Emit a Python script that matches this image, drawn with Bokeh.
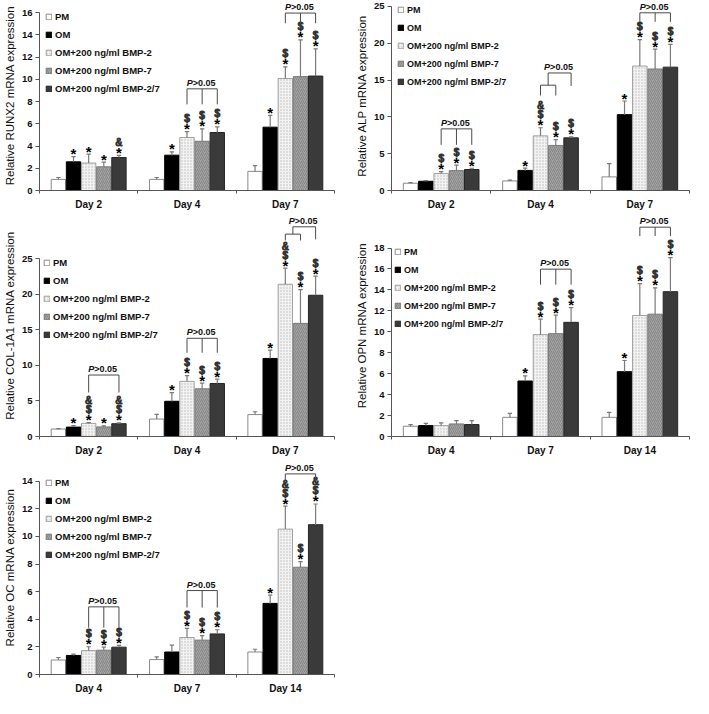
from bokeh.plotting import figure
from bokeh.models import Range1d, FixedTicker, Legend, LegendItem, ColumnDataSource
from bokeh.layouts import column, row
from bokeh.embed import file_html
from bokeh.resources import INLINE
from bokeh.core.properties import value

series = ["PM", "OM", "OM+200 ng/ml BMP-2", "OM+200 ng/ml BMP-7", "OM+200 ng/ml BMP-2/7"]

# ---------------- RUNX2 ----------------
runx2_days = ["Day 2", "Day 4", "Day 7"]
runx2_yticks = [0, 2, 4, 6, 8, 10, 12, 14, 16]
runx2_mean = [
    [1.00, 1.00, 1.72],
    [2.58, 3.18, 5.70],
    [2.47, 4.77, 10.08],
    [2.13, 4.43, 10.25],
    [2.97, 5.22, 10.30],
]
runx2_sd = [
    [0.17, 0.17, 0.52],
    [0.46, 0.30, 1.06],
    [0.80, 0.53, 1.05],
    [0.42, 1.12, 3.30],
    [0.20, 0.50, 2.45],
]
runx2_marks = [
    ["", "", ""],
    ["*", "*", "*"],
    ["*", "$*", "$*"],
    ["*", "$*", "$*"],
    ["&*", "$*", "$*"],
]
runx2_brackets = [
    {"day": 1, "legs": [2, 3, 4], "top": 9.15, "bottom": 7.75},
    {"day": 2, "legs": [2, 3, 4], "top": 15.97, "bottom": 15.05},
]

# ---------------- ALP ----------------
alp_days = ["Day 2", "Day 4", "Day 7"]
alp_yticks = [0, 5, 10, 15, 20, 25]
alp_mean = [
    [0.99, 1.30, 1.85],
    [1.25, 2.73, 10.30],
    [2.30, 7.42, 16.90],
    [2.70, 6.12, 16.50],
    [2.85, 7.15, 16.75],
]
alp_sd = [
    [0.08, 0.12, 1.80],
    [0.08, 0.30, 1.85],
    [0.25, 1.10, 3.60],
    [0.75, 0.78, 2.70],
    [0.17, 0.13, 3.10],
]
alp_marks = [
    ["", "", ""],
    ["", "*", "*"],
    ["$*", "&$*", "$*"],
    ["$*", "$*", "$*"],
    ["$*", "$*", "$*"],
]
alp_brackets = [
    {"day": 0, "legs": [2, 3, 4], "top": 8.37, "bottom": 6.2},
    {"day": 1, "legs": [2, 3], "top": 14.3, "bottom": 12.9,
     "upper_to": 4, "upper_top": 15.96, "upper_bottom": 14.2},
    {"day": 2, "legs": [2, 3, 4], "top": 24.13, "bottom": 22.9},
]

# ---------------- COL-1A1 ----------------
col_days = ["Day 2", "Day 4", "Day 7"]
col_yticks = [0, 5, 10, 15, 20, 25]
col_mean = [
    [1.05, 2.45, 3.08],
    [1.32, 4.95, 10.97],
    [1.85, 7.75, 21.40],
    [1.35, 6.70, 15.90],
    [1.80, 7.45, 19.85],
]
col_sd = [
    [0.06, 0.65, 0.40],
    [0.20, 1.23, 1.17],
    [0.10, 0.80, 2.25],
    [0.15, 0.80, 4.75],
    [0.12, 0.60, 2.68],
]
col_marks = [
    ["", "", ""],
    ["*", "*", "*"],
    ["&$*", "$*", "&$*"],
    ["*", "$*", "$*"],
    ["&$*", "$*", "$*"],
]
col_brackets = [
    {"day": 0, "legs": [2, 4], "top": 8.64, "bottom": 6.18},
    {"day": 1, "legs": [2, 3, 4], "top": 13.8, "bottom": 11.77},
    {"day": 2, "legs": [2, 3], "top": 28.44, "bottom": 27.55,
     "upper_to": 4, "upper_top": 29.47, "upper_bottom": 27.7},
]

# ---------------- OPN ----------------
opn_days = ["Day 4", "Day 7", "Day 14"]
opn_yticks = [0, 2, 4, 6, 8, 10, 12, 14, 16, 18]
opn_mean = [
    [0.98, 1.83, 1.83],
    [1.04, 5.30, 6.19],
    [1.04, 9.73, 11.56],
    [1.20, 9.82, 11.68],
    [1.14, 10.90, 13.83],
]
opn_sd = [
    [0.16, 0.38, 0.47],
    [0.22, 0.48, 1.07],
    [0.26, 1.47, 3.04],
    [0.32, 1.78, 2.52],
    [0.38, 1.40, 3.25],
]
opn_marks = [
    ["", "", ""],
    ["", "*", "*"],
    ["", "$*", "$*"],
    ["", "$*", "$*"],
    ["", "$*", "$*"],
]
opn_brackets = [
    {"day": 1, "legs": [2, 3, 4], "top": 15.98, "bottom": 14.5},
    {"day": 2, "legs": [2, 3, 4], "top": 19.99, "bottom": 19.14},
]

# ---------------- OC ----------------
oc_days = ["Day 4", "Day 7", "Day 14"]
oc_yticks = [0, 2, 4, 6, 8, 10, 12, 14]
oc_mean = [
    [1.05, 1.08, 1.63],
    [1.38, 1.63, 5.15],
    [1.73, 2.68, 10.53],
    [1.76, 2.49, 7.77],
    [1.98, 2.94, 10.85],
]
oc_sd = [
    [0.18, 0.20, 0.20],
    [0.10, 0.50, 0.60],
    [0.28, 0.66, 1.66],
    [0.22, 0.32, 0.40],
    [0.13, 0.30, 1.50],
]
oc_marks = [
    ["", "", ""],
    ["", "", "*"],
    ["$*", "$*", "&$*"],
    ["$*", "$*", "$*"],
    ["$*", "$*", "&$*"],
]
oc_brackets = [
    {"day": 0, "legs": [2, 3, 4], "top": 4.9, "bottom": 3.39},
    {"day": 1, "legs": [2, 3, 4], "top": 6.08, "bottom": 4.85},
    {"day": 2, "legs": [2, 4], "top": 14.53, "bottom": 14.0},
]

# ---------------- styling ----------------
STEP = 0.154
BAR_W = 0.146
CAP = 0.022
FILLS = ["#ffffff", "#000000", "#f2f2f2", "#a4a4a4", "#3a3a3a"]
LINES = ["#8a8a8a", "#000000", "#a0a0a0", "#7c7c7c", "#262626"]
HATCH = [None, None, "dot", "right_diagonal_line", None]
HATCH_COL = ["#ffffff", "#000000", "#bcbcbc", "#7e7e7e", "#3a3a3a"]
FONT = "Liberation Sans"
AXIS_COL = "#555555"
ERR_COL = "#7a7a7a"
MARK_OFF = [-3, -13, -22]


def bx(g, i):
    return g + 0.5 + (i - 2) * STEP


def make_panel(days, yticks, mean, sd, marks, brackets, ylabel, ymax,
               width, height, b_left, b_right, b_bottom, leg_x, leg_font):
    p = figure(width=width, height=height, x_range=Range1d(0, 3), y_range=Range1d(0, ymax),
               output_backend="svg", toolbar_location=None,
               min_border_left=b_left, min_border_right=b_right,
               min_border_top=0, min_border_bottom=b_bottom)
    p.outline_line_color = None
    p.grid.visible = False
    p.background_fill_color = "white"

    items = []
    for i in range(5):
        xs = [bx(g, i) for g in range(3)]
        src = ColumnDataSource(dict(x=xs, top=mean[i]))
        kw = {}
        if HATCH[i]:
            kw = dict(hatch_pattern=HATCH[i], hatch_color=HATCH_COL[i],
                      hatch_scale=4 if HATCH[i] != "dot" else 3, hatch_weight=0.8)
        r = p.vbar(x="x", top="top", width=BAR_W, bottom=0, source=src,
                   fill_color=FILLS[i], line_color=LINES[i], line_width=1, **kw)
        items.append(LegendItem(label=series[i], renderers=[r]))
        y1 = [m + s for m, s in zip(mean[i], sd[i])]
        p.segment(x0=xs, y0=mean[i], x1=xs, y1=y1, line_color=ERR_COL, line_width=1.2)
        p.segment(x0=[x - CAP for x in xs], y0=y1, x1=[x + CAP for x in xs], y1=y1,
                  line_color=ERR_COL, line_width=1.2)

    # significance marks: stars and $ / &
    star = dict(x=[], y=[], t=[], o=[])
    other = dict(x=[], y=[], t=[], o=[])
    for i in range(5):
        for g in range(3):
            s = marks[i][g]
            for k, ch in enumerate(reversed(s)):
                d = star if ch == "*" else other
                d["x"].append(bx(g, i))
                d["y"].append(mean[i][g] + sd[i][g])
                d["t"].append(ch)
                d["o"].append(MARK_OFF[k])
    p.text(x="x", y="y", text="t", y_offset="o", source=ColumnDataSource(star),
           text_font_size="15px", text_align="center", text_baseline="middle",
           text_font=value(FONT), text_font_style="bold", text_color="black")
    p.text(x="x", y="y", text="t", y_offset="o", source=ColumnDataSource(other),
           text_font_size="10px", text_align="center", text_baseline="middle",
           text_font=value(FONT), text_font_style="normal", text_color="#1a1a1a",
           text_outline_color="#333333")

    # brackets
    sx0, sy0, sx1, sy1, tx, ty = [], [], [], [], [], []
    for b in brackets:
        g = b["day"]
        xl = [bx(g, i) for i in b["legs"]]
        sx0.append(xl[0]); sy0.append(b["top"]); sx1.append(xl[-1]); sy1.append(b["top"])
        for x in xl:
            sx0.append(x); sy0.append(b["top"]); sx1.append(x); sy1.append(b["bottom"])
        if "upper_to" in b:
            xm = (xl[0] + xl[-1]) / 2
            xr = bx(g, b["upper_to"])
            sx0 += [xm, xm, xr]
            sy0 += [b["top"], b["upper_top"], b["upper_top"]]
            sx1 += [xm, xr, xr]
            sy1 += [b["upper_top"], b["upper_top"], b["upper_bottom"]]
            tx.append((xm + xr) / 2); ty.append(b["upper_top"])
        else:
            tx.append((xl[0] + xl[-1]) / 2); ty.append(b["top"])
    p.segment(x0=sx0, y0=sy0, x1=sx1, y1=sy1, line_color="#4a4a4a", line_width=1)
    p.text(x=tx, y=ty, text=["P"] * len(tx), x_offset=-9.5, y_offset=-6,
           text_align="right", text_baseline="middle", text_font=value(FONT),
           text_font_style="bold italic", text_font_size="9px", text_color="#111111")
    p.text(x=tx, y=ty, text=[">0.05"] * len(tx), x_offset=-9.5, y_offset=-6,
           text_align="left", text_baseline="middle", text_font=value(FONT),
           text_font_style="bold", text_font_size="9px", text_color="#111111")

    # axes
    p.xaxis.ticker = FixedTicker(ticks=[0.5, 1.5, 2.5], minor_ticks=[0, 1, 2, 3])
    p.xaxis.major_label_overrides = {0.5: days[0], 1.5: days[1], 2.5: days[2]}
    p.xaxis.major_tick_out = 0
    p.xaxis.major_tick_in = 0
    p.xaxis.minor_tick_out = 3
    p.xaxis.minor_tick_in = 0
    p.xaxis.major_label_standoff = 5
    p.yaxis.ticker = FixedTicker(ticks=yticks)
    p.yaxis.bounds = (0, yticks[-1])
    p.yaxis.minor_tick_out = 0
    p.yaxis.minor_tick_in = 0
    p.yaxis.major_tick_out = 4
    p.yaxis.major_tick_in = 0
    p.yaxis.major_label_standoff = 3
    p.yaxis.axis_label = ylabel
    p.yaxis.axis_label_standoff = 3
    p.yaxis.axis_label_text_font = FONT
    p.yaxis.axis_label_text_font_style = "normal"
    p.yaxis.axis_label_text_font_size = "11.5px"
    p.yaxis.axis_label_text_color = "#111111"
    for ax in (p.xaxis, p.yaxis):
        ax.axis_line_color = AXIS_COL
        ax.major_tick_line_color = AXIS_COL
        ax.minor_tick_line_color = AXIS_COL
        ax.major_label_text_font = FONT
        ax.major_label_text_font_style = "bold"
        ax.major_label_text_color = "#111111"
    p.xaxis.major_label_text_font_size = "10px"
    p.yaxis.major_label_text_font_size = "9.5px"

    # legend: top of legend a little above the highest tick
    frame_h = height - b_bottom
    top_px = frame_h * yticks[-1] / ymax + 2
    leg_h = 5 * 12 + 4 * 6
    legend = Legend(items=items, location=(leg_x, top_px - leg_h),
                    label_text_font=FONT, label_text_font_style="bold",
                    label_text_font_size=leg_font, label_text_color="#111111",
                    glyph_width=7, glyph_height=7, label_height=12, spacing=6,
                    padding=0, margin=0, label_standoff=3,
                    border_line_color=None, background_fill_alpha=0)
    p.add_layout(legend)
    return p


LW, RW = 352, 341
H1, H2, H3 = 214, 246, 236

pA = make_panel(runx2_days, runx2_yticks, runx2_mean, runx2_sd, runx2_marks, runx2_brackets,
                "Relative RUNX2 mRNA expression", 17.1, LW, H1, 31, 18, 24, 6, "9.5px")
pB = make_panel(alp_days, alp_yticks, alp_mean, alp_sd, alp_marks, alp_brackets,
                "Relative ALP mRNA expression", 25.8, RW, H1, 34, 4, 24, 6, "9px")
pC = make_panel(col_days, col_yticks, col_mean, col_sd, col_marks, col_brackets,
                "Relative COL-1A1 mRNA expression", 31.2, LW, H2, 31, 18, 24, 4, "9.5px")
pD = make_panel(opn_days, opn_yticks, opn_mean, opn_sd, opn_marks, opn_brackets,
                "Relative OPN mRNA expression", 21.2, RW, H2, 34, 4, 24, 3, "9px")
pE = make_panel(oc_days, oc_yticks, oc_mean, oc_sd, oc_marks, oc_brackets,
                "Relative OC mRNA expression", 15.5, LW, H3, 31, 18, 20, 6, "9.5px")

layout = column(row(pA, pB), row(pC, pD), row(pE))
open("out.html", "w").write(file_html(layout, INLINE))
